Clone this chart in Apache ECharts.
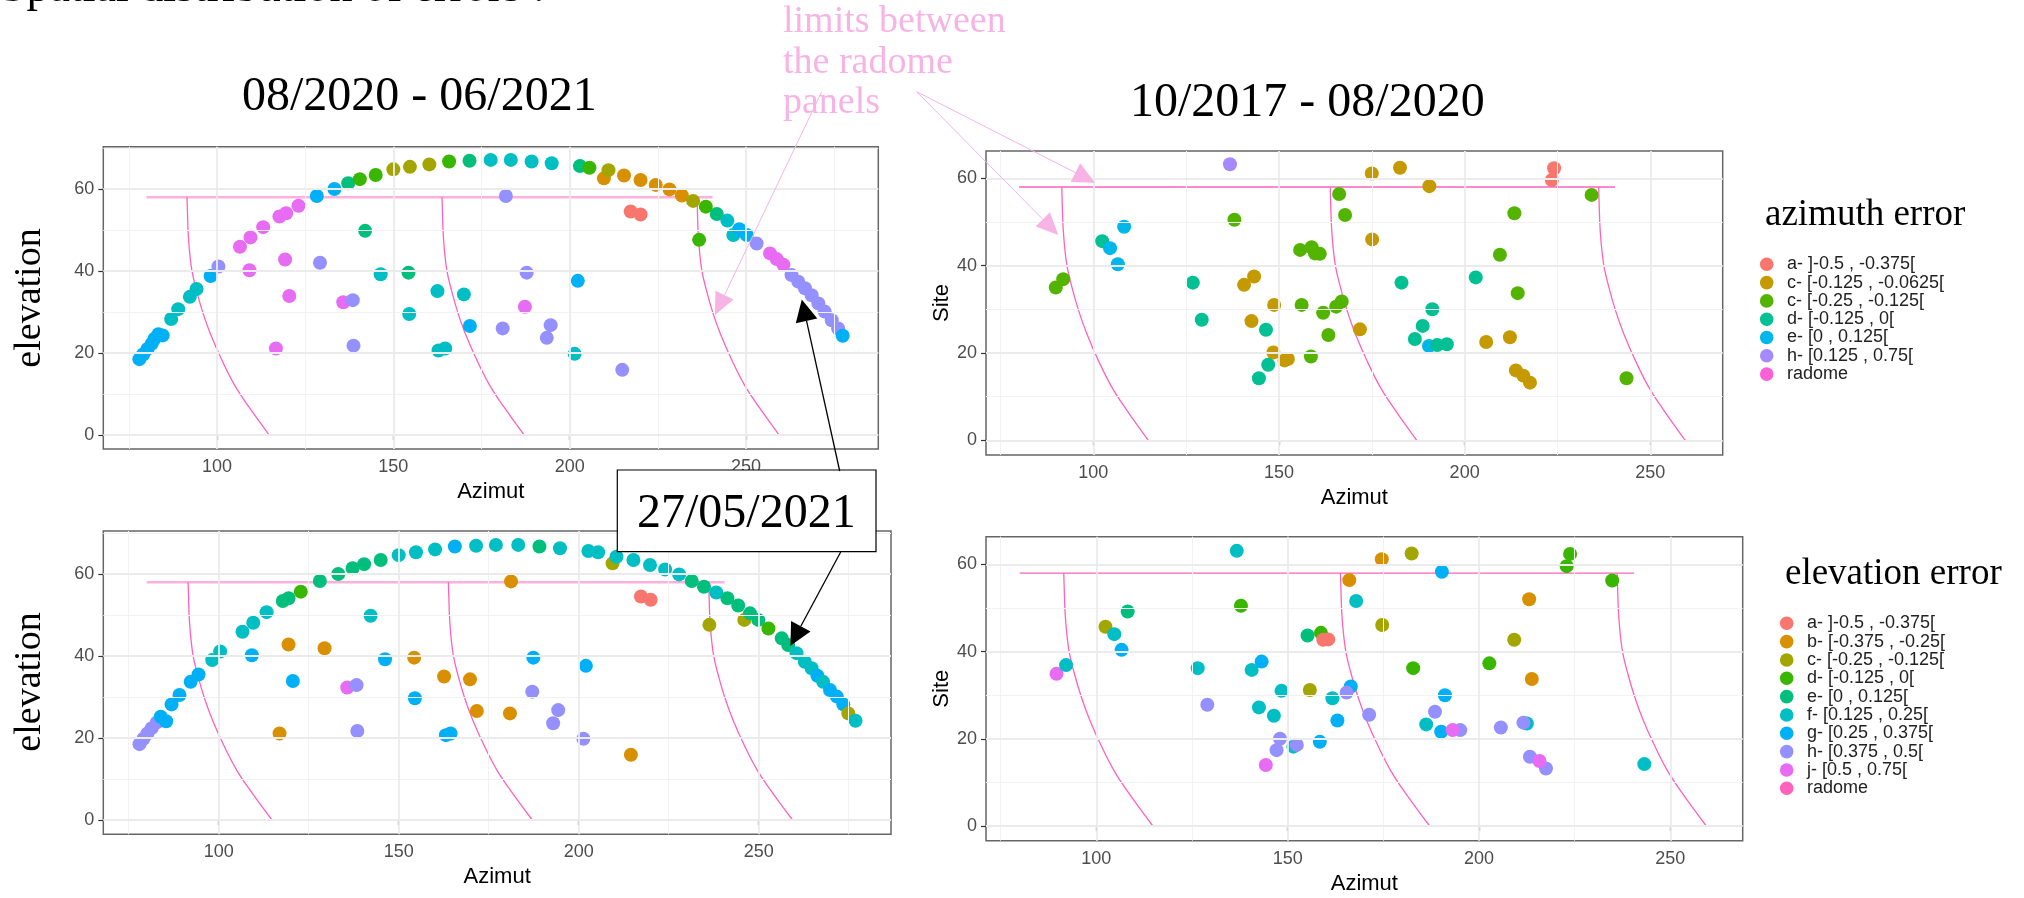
<!DOCTYPE html>
<html><head><meta charset="utf-8">
<script src="https://cdn.jsdelivr.net/npm/echarts@6/dist/echarts.min.js"></script>
<style>html,body{margin:0;padding:0;background:#fff}#c{width:2024px;height:898px}</style>
</head><body><div id="c"></div>
<script>
// ---------- DATA ----------
const xTicks = [100, 150, 200, 250];
const yTicks = [0, 20, 40, 60];
const xMinorWide = [75, 125, 175, 225, 275];
const xMinorNarrow = [75, 125, 175, 225];
const yMinorWide = [10, 30, 50, 70];
const yMinorNarrow = [10, 30, 50];

// radome panel limits
const radomeHorizontal = [[80, 58], [240.5, 58]];
const radomeTops = [91.5, 163.8, 236.1];
const radomeProfile = [[0, 58], [0.1, 55], [0.4, 48.2], [1.3, 40.5], [2.7, 35.2], [4.5, 29.8], [6.7, 24.5], [9.8, 18.4], [13.4, 12.3], [17.5, 6.9], [23.3, 0]];

// legends
const azLegendLabels = ["a- ]-0.5 , -0.375[", "c- [-0.125 , -0.0625[", "c- [-0.25 , -0.125[", "d- [-0.125 , 0[", "e- [0 , 0.125[", "h- [0.125 , 0.75[", "radome"];
const azLegendKeys = ["a", "c1", "c2", "d", "e", "h", "radome"];
const elLegendLabels = ["a- ]-0.5 , -0.375[", "b- [-0.375 , -0.25[", "c- [-0.25 , -0.125[", "d- [-0.125 , 0[", "e- [0 , 0.125[", "f- [0.125 , 0.25[", "g- [0.25 , 0.375[", "h- [0.375 , 0.5[", "j- [0.5 , 0.75[", "radome"];
const elLegendKeys = ["a", "b", "c", "d", "e", "f", "g", "h", "j", "radome"];

// 08/2020 - 06/2021, azimuth error  [azimut, site, class]
const tlPoints = [
 [78.0,18.5,'g'],[79.1,19.7,'g'],[80.3,21.0,'g'],[81.5,22.3,'g'],[82.3,23.5,'g'],[83.4,24.6,'g'],[84.6,24.3,'g'],
 [87.0,28.3,'f'],[89.0,30.7,'f'],[92.3,33.7,'f'],[94.2,35.6,'f'],[98.2,38.8,'g'],[100.4,41.1,'h'],
 [106.5,45.9,'j'],[109.5,48.2,'j'],[113.1,50.7,'j'],[117.7,53.3,'j'],[119.6,54.1,'j'],[123.1,55.9,'j'],
 [128.3,58.3,'g'],[133.3,60.0,'g'],[137.2,61.4,'e'],[140.5,62.4,'d'],[145.0,63.4,'d'],
 [150.0,64.8,'c'],[154.7,65.4,'c'],[160.2,66.0,'c'],[165.8,66.7,'d'],[171.6,66.9,'e'],
 [177.6,67.1,'f'],[183.3,67.1,'f'],[189.2,66.7,'f'],[194.9,66.3,'f'],[202.9,65.6,'e'],[205.6,65.2,'d'],
 [209.7,62.6,'b'],[211.0,64.6,'c'],[215.4,63.3,'b'],[220.1,62.2,'b'],[224.4,61.0,'b'],[228.3,59.9,'b'],[231.8,58.4,'b'],
 [235.0,57.1,'c'],[238.6,55.7,'d'],[241.7,53.9,'e'],[244.7,52.3,'f'],[246.4,48.8,'f'],[248.1,50.2,'g'],[250.2,48.8,'g'],
 [253.0,46.7,'h'],[256.8,44.3,'j'],[258.7,42.9,'j'],[260.6,41.5,'j'],
 [262.9,39.0,'h'],[264.8,37.4,'h'],[266.7,35.8,'h'],[268.6,34.1,'h'],[270.5,32.1,'h'],[272.3,30.1,'h'],[274.3,28.0,'h'],[276.1,26.0,'h'],[277.4,24.2,'g'],
 [142.0,49.8,'e'],[109.2,40.2,'j'],[119.3,42.8,'j'],[129.2,42.0,'h'],[146.4,39.2,'f'],[154.3,39.6,'e'],
 [120.5,33.9,'j'],[135.8,32.4,'j'],[138.5,32.9,'h'],[162.5,35.1,'f'],[170.0,34.3,'f'],[154.5,29.5,'f'],
 [171.7,26.6,'g'],[181.0,26.0,'h'],[116.7,21.1,'j'],[138.7,21.8,'h'],[162.8,20.6,'f'],[164.7,21.1,'f'],
 [181.9,58.3,'h'],[217.3,54.5,'a'],[220.1,53.8,'a'],[236.7,47.6,'d'],[187.8,39.6,'h'],[202.3,37.6,'g'],
 [187.3,31.3,'j'],[194.6,26.8,'h'],[193.5,23.7,'h'],[201.4,19.8,'f'],[214.9,15.9,'h']
];

// 10/2017 - 08/2020, azimuth error
const trPoints = [
 [136.8,63.2,'h'],[89.9,35.0,'c2'],[91.9,36.9,'c2'],[102.4,45.6,'d'],[104.5,44.0,'e'],[108.3,48.9,'e'],[106.6,40.3,'e'],
 [126.8,36.1,'d'],[129.2,27.6,'d'],[138.0,50.5,'c2'],[140.6,35.6,'c1'],[143.3,37.5,'c1'],[142.6,27.3,'c1'],[148.7,31.0,'c1'],
 [146.5,25.3,'d'],[148.5,20.1,'c1'],[151.5,18.3,'c1'],[152.4,18.6,'c1'],[147.1,17.3,'d'],[144.6,14.2,'d'],
 [155.7,43.6,'c2'],[158.8,44.2,'c2'],[159.7,42.8,'c2'],[161.0,42.7,'c2'],
 [156.1,31.0,'c2'],[161.9,29.2,'c2'],[165.4,30.6,'c2'],[166.9,31.8,'c2'],[163.3,24.1,'c2'],[158.6,19.2,'c2'],[166.2,56.4,'c2'],[167.8,51.6,'c2'],
 [175.0,61.1,'c1'],[182.6,62.4,'c1'],[190.5,58.2,'c1'],[175.1,46.0,'c1'],[171.8,25.4,'c1'],
 [183.0,36.1,'d'],[191.3,30.0,'d'],[188.7,26.2,'d'],[186.6,23.2,'d'],[190.4,21.6,'e'],[192.6,21.8,'d'],[195.2,22.0,'d'],[203.0,37.3,'d'],
 [213.4,52.0,'c2'],[209.5,42.5,'c2'],[214.3,33.7,'c2'],
 [205.8,22.5,'c1'],[212.2,23.6,'c1'],[213.8,16.0,'c1'],[215.8,14.8,'c1'],[217.6,13.2,'c1'],
 [224.1,62.3,'a'],[223.5,59.6,'a'],[234.2,56.2,'c2'],[243.6,14.2,'c2']
];

// 08/2020 - 06/2021, elevation error
const blPoints = [
 [78.0,18.5,'h'],[79.1,19.8,'h'],[80.2,21.1,'h'],[81.4,22.4,'h'],[82.8,23.8,'h'],
 [83.9,25.2,'g'],[85.4,24.1,'g'],[86.9,28.2,'g'],[89.1,30.5,'g'],[92.2,33.7,'g'],[94.4,35.5,'g'],
 [98.2,39.0,'f'],[100.4,41.1,'f'],[106.6,45.9,'f'],[109.6,48.1,'f'],[113.3,50.7,'f'],
 [117.8,53.4,'e'],[119.4,54.1,'e'],[122.8,55.7,'d'],
 [128.1,58.3,'e'],[133.2,60.0,'e'],[137.2,61.4,'e'],[140.4,62.4,'e'],[145.0,63.4,'e'],
 [150.0,64.6,'f'],[154.8,65.3,'f'],[160.1,66.0,'f'],[165.6,66.7,'g'],[171.5,66.9,'f'],[177.0,67.1,'f'],[183.2,67.1,'f'],
 [189.1,66.7,'e'],[194.8,66.3,'f'],[202.7,65.6,'f'],[205.4,65.3,'f'],[209.4,62.6,'c'],[210.5,64.2,'f'],
 [215.2,63.4,'f'],[219.8,62.2,'f'],[224.0,61.1,'f'],[227.9,59.9,'f'],[231.4,58.3,'e'],[234.8,56.9,'e'],[238.2,55.5,'f'],
 [241.3,54.1,'e'],[244.3,52.3,'e'],[246.0,48.8,'c'],[247.6,50.4,'e'],[249.9,48.8,'e'],[236.3,47.6,'c'],[252.7,46.7,'d'],
 [256.4,44.3,'e'],[258.2,42.7,'e'],[260.5,40.7,'f'],[262.8,38.6,'f'],[264.7,37.0,'f'],[266.3,35.2,'g'],[267.9,33.7,'f'],
 [269.8,31.7,'g'],[271.7,30.1,'g'],[273.5,28.2,'g'],[274.9,26.0,'c'],[276.9,24.2,'f'],
 [142.2,49.8,'f'],[119.4,42.8,'b'],[129.4,41.9,'b'],[109.2,40.2,'g'],[146.2,39.2,'g'],[154.3,39.6,'b'],
 [120.6,33.9,'g'],[135.7,32.3,'j'],[138.3,32.9,'h'],[162.6,35.0,'b'],[169.8,34.3,'b'],[154.5,29.7,'g'],
 [171.7,26.6,'b'],[180.9,26.0,'b'],[116.9,21.1,'b'],[138.5,21.7,'h'],[163.1,20.7,'g'],[164.4,21.1,'g'],
 [181.2,58.2,'b'],[217.3,54.5,'a'],[220.0,53.7,'a'],[187.4,39.6,'g'],[202.0,37.6,'g'],
 [187.1,31.3,'h'],[194.3,26.8,'h'],[192.9,23.6,'h'],[201.3,19.8,'h'],[214.5,15.9,'b']
];

// 10/2017 - 08/2020, elevation error
const brPoints = [
 [136.7,63.1,'f'],[89.6,34.9,'j'],[92.1,36.9,'f'],[102.4,45.7,'c'],[104.7,44.0,'f'],[108.2,49.2,'e'],[106.6,40.4,'g'],
 [126.5,36.2,'f'],[129.0,27.8,'h'],[137.8,50.5,'d'],[140.6,35.8,'f'],[143.2,37.7,'g'],[142.5,27.2,'f'],[148.4,31.0,'f'],
 [146.4,25.3,'f'],[148.0,20.0,'h'],[147.1,17.4,'h'],[151.5,18.2,'f'],[152.4,18.6,'h'],[144.3,14.0,'j'],
 [155.2,43.7,'e'],[158.7,44.3,'d'],[159.3,42.7,'a'],[160.6,42.8,'a'],[155.8,31.2,'c'],[161.7,29.3,'f'],
 [163.0,24.2,'g'],[158.4,19.3,'g'],[166.5,32.0,'g'],[165.4,30.6,'h'],[166.1,56.4,'b'],[167.9,51.6,'f'],
 [174.6,61.2,'b'],[182.4,62.5,'c'],[190.3,58.3,'g'],[174.7,46.1,'c'],[182.8,36.2,'d'],[171.3,25.5,'h'],
 [188.5,26.2,'h'],[191.1,30.0,'g'],[186.2,23.3,'f'],[190.1,21.6,'g'],[195.1,22.0,'h'],[193.1,22.0,'j'],
 [205.7,22.6,'h'],[212.5,23.5,'f'],[211.6,23.7,'h'],[202.7,37.3,'d'],[209.2,42.7,'c'],[213.1,52.0,'b'],[213.8,33.7,'b'],
 [222.9,59.6,'d'],[223.8,62.4,'d'],[234.8,56.3,'d'],[213.3,15.9,'h'],[217.5,13.2,'h'],[215.8,14.9,'j'],[243.2,14.2,'f']
];

// ---------- STYLE ----------
const pal7 = {a:'#F8766D', c1:'#C49A00', c2:'#53B400', d:'#00C094', e:'#00B6EB', h:'#A58AFF', radome:'#FB61D7'};
const pal10 = {a:'#F8766D', b:'#D89000', c:'#A3A500', d:'#39B600', e:'#00BF7D', f:'#00BFC4', g:'#00B0F6', h:'#9590FF', j:'#E76BF3', radome:'#FF62BC'};
const SANS = 'Liberation Sans', SERIF = 'Liberation Serif';
const RADOME = '#FF62BC';

const panels = [
  {grid:{left:103.3, top:146.7, width:775, height:302.3}, x:[67.76, 287.5], y:[-3.41, 70.32], pts:tlPoints, pal:pal10, wide:true, yName:''},
  {grid:{left:986, top:151, width:736.7, height:304}, x:[71.1, 269.5], y:[-3.37, 66.25], pts:trPoints, pal:pal7, wide:false, yName:'Site'},
  {grid:{left:103.3, top:531, width:787.7, height:303.3}, x:[67.94, 286.75], y:[-3.49, 70.49], pts:blPoints, pal:pal10, wide:true, yName:''},
  {grid:{left:986, top:536.7, width:756.7, height:304}, x:[71.18, 268.9], y:[-3.37, 66.35], pts:brPoints, pal:pal10, wide:false, yName:'Site'}
];

const grids = [], xAxes = [], yAxes = [], series = [];
panels.forEach((p, i) => {
  grids.push(Object.assign({show:true, borderColor:'#666', borderWidth:1.5, backgroundColor:'#fff'}, p.grid));
  const common = {
    type:'value', gridIndex:i, axisLine:{show:false}, splitLine:{show:false},
    axisTick:{show:true, length:5, lineStyle:{color:'#333', width:1.2}},
    axisLabel:{fontFamily:SANS, fontSize:18, color:'#4D4D4D', margin:9}
  };
  xAxes.push(Object.assign({}, common, {
    min:p.x[0], max:p.x[1],
    axisTick:Object.assign({}, common.axisTick, {customValues:xTicks}),
    axisLabel:Object.assign({}, common.axisLabel, {customValues:xTicks}),
    name:'Azimut', nameLocation:'middle', nameGap:32,
    nameTextStyle:{fontFamily:SANS, fontSize:22, color:'#000'}
  }));
  yAxes.push(Object.assign({}, common, {
    min:p.y[0], max:p.y[1],
    axisTick:Object.assign({}, common.axisTick, {customValues:yTicks}),
    axisLabel:Object.assign({}, common.axisLabel, {customValues:yTicks}),
    name:p.yName, nameLocation:'middle', nameGap:31,
    nameTextStyle:{fontFamily:SANS, fontSize:22, color:'#000'}
  }));
  const xMinor = p.wide ? xMinorWide : xMinorNarrow;
  const yMinor = p.wide ? yMinorWide : yMinorNarrow;
  const mk = [];
  xMinor.forEach(v => mk.push({xAxis:v, lineStyle:{color:'#F2F2F2', width:1}}));
  yMinor.forEach(v => mk.push({yAxis:v, lineStyle:{color:'#F2F2F2', width:1}}));
  xTicks.forEach(v => mk.push({xAxis:v, lineStyle:{color:'#EBEBEB', width:1.8}}));
  yTicks.forEach(v => mk.push({yAxis:v, lineStyle:{color:'#EBEBEB', width:1.8}}));
  series.push({
    type:'line', xAxisIndex:i, yAxisIndex:i, data:[[p.x[0]-50, p.y[0]-50]], symbol:'none', silent:true, z:1,
    lineStyle:{width:0},
    markLine:{silent:true, symbol:['none','none'], label:{show:false}, emphasis:{disabled:true}, animation:false,
      lineStyle:{type:'solid'}, data:mk}
  });
  // radome limits
  series.push({
    type:'line', xAxisIndex:i, yAxisIndex:i, data:radomeHorizontal, symbol:'none', silent:true, z:2,
    lineStyle: p.wide ? {color:'rgba(255,98,188,0.5)', width:2.6} : {color:RADOME, width:1.3}
  });
  radomeTops.forEach(t => {
    series.push({
      type:'line', xAxisIndex:i, yAxisIndex:i, smooth:0.4, symbol:'none', silent:true, z:2,
      data: radomeProfile.map(d => [t + d[0], d[1]]),
      lineStyle:{color:RADOME, width:1.3}
    });
  });
  // error points
  series.push({
    type:'scatter', xAxisIndex:i, yAxisIndex:i, z:3, symbolSize:14,
    data: p.pts.map(d => [d[0], d[1]]),
    itemStyle:{opacity:1, color: prm => p.pal[p.pts[prm.dataIndex][2]]}
  });
});

// ---------- ANNOTATIONS ----------
const G = [];
function txt(s, x, y, size, fam, color, extra) {
  G.push(Object.assign({type:'text', z:100, x:x, y:y,
    style:{text:s, x:0, y:0, font:size + 'px "' + fam + '"', fill:color, align:'left', verticalAlign:'middle'}}, extra || {}));
}
function arrow(x1, y1, x2, y2, color, lw, L, Wd) {
  const dx = x2 - x1, dy = y2 - y1, len = Math.hypot(dx, dy), ux = dx / len, uy = dy / len;
  const bx = x2 - ux * L, by = y2 - uy * L, px = -uy, py = ux;
  G.push({type:'line', z:101, shape:{x1:x1, y1:y1, x2:bx, y2:by}, style:{stroke:color, lineWidth:lw}});
  G.push({type:'polygon', z:101, shape:{points:[[x2, y2], [bx + px * Wd / 2, by + py * Wd / 2], [bx - px * Wd / 2, by - py * Wd / 2]]}, style:{fill:color}});
}
const PINK = '#F7B3E4';
txt('Spatial distribution of errors :', 1, -11, 46, SERIF, '#000');
txt('08/2020 - 06/2021', 242, 97, 48, SERIF, '#000');
txt('10/2017 - 08/2020', 1130, 103, 48, SERIF, '#000');
txt('limits between', 783, 22, 38, SERIF, PINK);
txt('the radome', 783, 63, 38, SERIF, PINK);
txt('panels', 783, 103, 38, SERIF, PINK);
arrow(821.7, 91.7, 715, 315, PINK, 1, 22, 20);
arrow(916.7, 91.7, 1095, 182.7, PINK, 1, 22, 21);
arrow(916.7, 91.7, 1058.3, 235, PINK, 1, 22, 20);
// rotated left titles
[298, 682].forEach(cy => {
  G.push({type:'text', z:100, x:30, y:cy, rotation:Math.PI / 2,
    style:{text:'elevation', x:0, y:0, font:'38px "' + SERIF + '"', fill:'#000', align:'center', verticalAlign:'middle'}});
});
// date box
G.push({type:'rect', z:100, shape:{x:617.3, y:470, width:258.7, height:81.7}, style:{fill:'#fff', stroke:'#000', lineWidth:1.2}});
txt('27/05/2021', 637, 514, 48, SERIF, '#000');
arrow(839.7, 471, 801.8, 299.4, '#000', 1.3, 22, 22);
arrow(840.7, 552, 790.4, 645.7, '#000', 1.3, 22, 22);
// legends
txt('azimuth error', 1765, 215.5, 37, SERIF, '#000');
azLegendLabels.forEach((lab, k) => {
  const cy = 264.3 + k * 18.3;
  G.push({type:'circle', z:100, shape:{cx:1766.7, cy:cy, r:6.8}, style:{fill:pal7[azLegendKeys[k]]}});
  txt(lab, 1787, cy, 18, SANS, '#222');
});
txt('elevation error', 1785, 574, 37, SERIF, '#000');
elLegendLabels.forEach((lab, k) => {
  const cy = 623.3 + k * 18.33;
  G.push({type:'circle', z:100, shape:{cx:1786.7, cy:cy, r:6.8}, style:{fill:pal10[elLegendKeys[k]]}});
  txt(lab, 1807, cy, 18, SANS, '#222');
});

const chart = echarts.init(document.getElementById('c'), null, {renderer:'canvas', width:2024, height:898});
chart.setOption({
  animation:false,
  backgroundColor:'#fff',
  grid:grids, xAxis:xAxes, yAxis:yAxes, series:series,
  graphic:{elements:G}
});
</script></body></html>
